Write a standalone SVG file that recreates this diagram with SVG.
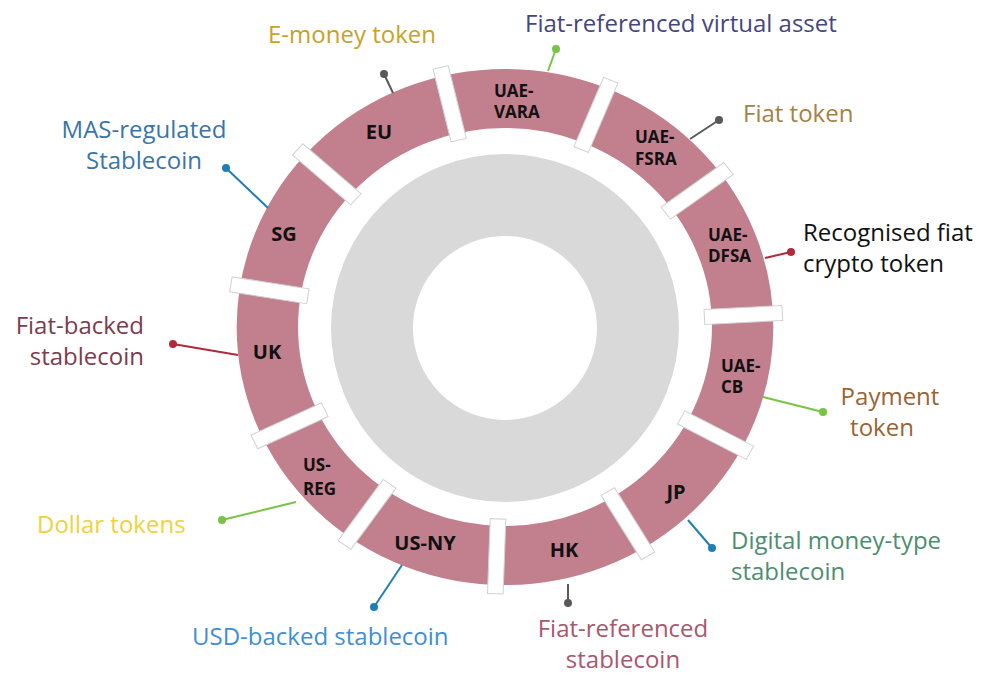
<svg xmlns="http://www.w3.org/2000/svg" width="982" height="675" viewBox="0 0 982 675">
  <style>
    .seg { font-family: "Open Sans", "Noto Sans", sans-serif; font-weight: 700; fill: #111; }
    .two { font-size: 17px; }
    .one { font-size: 20px; text-anchor: middle; }
    .lbl { font-family: "Open Sans", "Noto Sans", sans-serif; font-size: 24px; }
    .bar { fill: #ffffff; stroke: #d2d2d2; stroke-width: 1; }
    .lead { fill: none; stroke-width: 2; }
  </style>

  <rect width="982" height="675" fill="#ffffff"/>

  <!-- grey inner doughnut -->
  <circle cx="505" cy="328" r="133" fill="none" stroke="#d9d9d9" stroke-width="82"/>

  <!-- outer ring with white separators -->
  <g id="ring" transform="translate(505,327) scale(1.04,1)">
    <circle r="228.5" fill="none" stroke="#c27f8e" stroke-width="59"/>
    <g id="separators">
      <rect class="bar" x="192" y="-7.5" width="75" height="15" transform="rotate(-3)"/>
      <rect class="bar" x="192" y="-7.5" width="75" height="15" transform="rotate(28.1)"/>
      <rect class="bar" x="192" y="-7.5" width="75" height="15" transform="rotate(59)"/>
      <rect class="bar" x="192" y="-7.5" width="75" height="15" transform="rotate(92)"/>
      <rect class="bar" x="192" y="-7.5" width="75" height="15" transform="rotate(125.3)"/>
      <rect class="bar" x="192" y="-7.5" width="75" height="15" transform="rotate(154.5)"/>
      <rect class="bar" x="192" y="-7.5" width="75" height="15" transform="rotate(189.2)"/>
      <rect class="bar" x="192" y="-7.5" width="75" height="15" transform="rotate(221.7)"/>
      <rect class="bar" x="192" y="-7.5" width="75" height="15" transform="rotate(256.6)"/>
      <rect class="bar" x="192" y="-7.5" width="75" height="15" transform="rotate(292.4)"/>
      <rect class="bar" x="192" y="-7.5" width="75" height="15" transform="rotate(323.6)"/>
    </g>
  </g>

  <!-- leader lines from each segment to its label -->
  <g id="connectors">
    <g stroke="#595959" fill="#595959">
      <line class="lead" x1="393" y1="93" x2="384" y2="74"/>
      <circle cx="384" cy="74" r="4" stroke="none"/>
      <line class="lead" x1="690" y1="139" x2="719" y2="120"/>
      <circle cx="719" cy="120" r="4" stroke="none"/>
      <line class="lead" x1="568" y1="584" x2="568" y2="603"/>
      <circle cx="568" cy="603" r="4" stroke="none"/>
    </g>
    <g stroke="#78c446" fill="#78c446">
      <line class="lead" x1="548" y1="71" x2="556" y2="49"/>
      <circle cx="556" cy="49" r="4" stroke="none"/>
      <line class="lead" x1="763" y1="397" x2="823" y2="412"/>
      <circle cx="823" cy="412" r="4" stroke="none"/>
      <line class="lead" x1="296" y1="502" x2="222" y2="520"/>
      <circle cx="222" cy="520" r="4" stroke="none"/>
    </g>
    <g stroke="#b02a3c" fill="#b02a3c">
      <line class="lead" x1="765" y1="258" x2="791" y2="252"/>
      <circle cx="791" cy="252" r="4" stroke="none"/>
      <line class="lead" x1="238" y1="355" x2="173" y2="344"/>
      <circle cx="173" cy="344" r="4" stroke="none"/>
    </g>
    <g stroke="#1f7fb5" fill="#1f7fb5">
      <line class="lead" x1="688" y1="520" x2="712" y2="548"/>
      <circle cx="712" cy="548" r="4" stroke="none"/>
      <line class="lead" x1="402" y1="565" x2="374" y2="607"/>
      <circle cx="374" cy="607" r="4" stroke="none"/>
      <line class="lead" x1="268" y1="208" x2="226" y2="168"/>
      <circle cx="226" cy="168" r="4" stroke="none"/>
    </g>
  </g>

  <!-- segment nodes -->
  <g id="node-uae-vara">
    <text class="seg two" x="494" y="97">UAE-</text>
    <text class="seg two" x="494" y="118">VARA</text>
    <text class="lbl" x="525" y="32" fill="#46467f">Fiat-referenced virtual asset</text>
  </g>
  <g id="node-uae-fsra">
    <text class="seg two" x="635" y="143">UAE-</text>
    <text class="seg two" x="635" y="165">FSRA</text>
    <text class="lbl" x="743" y="122" fill="#a58245">Fiat token</text>
  </g>
  <g id="node-uae-dfsa">
    <text class="seg two" x="708" y="241">UAE-</text>
    <text class="seg two" x="708" y="262">DFSA</text>
    <text class="lbl" x="803" y="241" fill="#111111">Recognised fiat</text>
    <text class="lbl" x="803" y="272" fill="#111111">crypto token</text>
  </g>
  <g id="node-uae-cb">
    <text class="seg two" x="721" y="372">UAE-</text>
    <text class="seg two" x="721" y="393">CB</text>
    <text class="lbl" x="890" y="405" fill="#9a6434" text-anchor="middle">Payment</text>
    <text class="lbl" x="882" y="436" fill="#9a6434" text-anchor="middle">token</text>
  </g>
  <g id="node-jp">
    <text class="seg one" x="676" y="499">JP</text>
    <text class="lbl" x="731" y="549" fill="#4e8e6e">Digital money-type</text>
    <text class="lbl" x="731" y="580" fill="#4e8e6e">stablecoin</text>
  </g>
  <g id="node-hk">
    <text class="seg one" x="564" y="557">HK</text>
    <text class="lbl" x="623" y="637" fill="#a9576e" text-anchor="middle">Fiat-referenced</text>
    <text class="lbl" x="623" y="668" fill="#a9576e" text-anchor="middle">stablecoin</text>
  </g>
  <g id="node-us-ny">
    <text class="seg one" x="425" y="550">US-NY</text>
    <text class="lbl" x="192" y="645" fill="#3d8fd6">USD-backed stablecoin</text>
  </g>
  <g id="node-us-reg">
    <text class="seg two" x="303" y="471">US-</text>
    <text class="seg two" x="303" y="495">REG</text>
    <text class="lbl" x="37" y="533" fill="#f0d23a">Dollar tokens</text>
  </g>
  <g id="node-uk">
    <text class="seg one" x="267" y="359">UK</text>
    <text class="lbl" x="144" y="334" fill="#7d3c4e" text-anchor="end">Fiat-backed</text>
    <text class="lbl" x="144" y="365" fill="#7d3c4e" text-anchor="end">stablecoin</text>
  </g>
  <g id="node-sg">
    <text class="seg one" x="284" y="241">SG</text>
    <text class="lbl" x="144" y="138" fill="#3a75a8" text-anchor="middle">MAS-regulated</text>
    <text class="lbl" x="144" y="169" fill="#3a75a8" text-anchor="middle">Stablecoin</text>
  </g>
  <g id="node-eu">
    <text class="seg one" x="379" y="139">EU</text>
    <text class="lbl" x="352" y="43" fill="#c8a228" text-anchor="middle">E-money token</text>
  </g>
</svg>
